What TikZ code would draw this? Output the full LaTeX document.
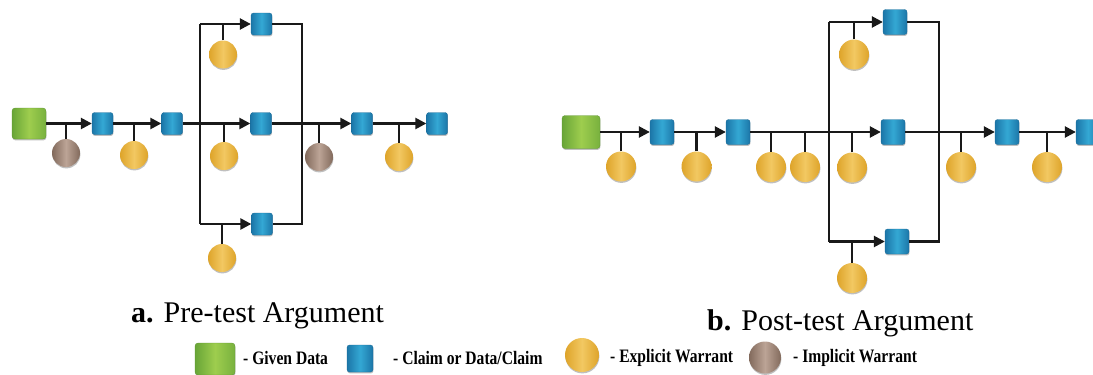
\documentclass[tikz,border=0pt]{standalone}
\usepackage{fontspec}
\setmainfont{Liberation Serif}
\usetikzlibrary{arrows.meta,shadows}
\definecolor{gD}{RGB}{104,165,55}
\definecolor{gL}{RGB}{158,205,78}
\definecolor{bD}{RGB}{28,118,168}
\definecolor{bL}{RGB}{52,168,212}
\definecolor{yD}{RGB}{222,164,42}
\definecolor{yL}{RGB}{242,200,98}
\definecolor{rD}{RGB}{130,106,92}
\definecolor{rL}{RGB}{188,164,150}
\tikzset{
  shd/.style={drop shadow={shadow xshift=0.4pt,shadow yshift=-1.4pt,opacity=0.25,fill=black}},
  given/.style={shd,rounded corners=3pt,inner sep=0pt,left color=gD,right color=gD!70!gL,middle color=gL,draw=gD!90!black,line width=0.3pt},
  claim/.style={shd,rounded corners=2.5pt,inner sep=0pt,left color=bD,right color=bD,middle color=bL,draw=bD!90!black,line width=0.3pt},
  claimA/.style={claim,minimum width=21pt,minimum height=22pt},
  claimB/.style={claim,minimum width=24pt,minimum height=25pt},
  expw/.style={shd,circle,inner sep=0pt,left color=yD,right color=yD,middle color=yL},
  impw/.style={shd,circle,inner sep=0pt,left color=rD,right color=rD,middle color=rL},
  wA/.style={minimum size=28pt},
  wB/.style={minimum size=30pt},
  conn/.style={line width=2.4pt,black!90},
  arr/.style={conn,-{Triangle[length=11pt,width=11pt]}},
  ttl/.style={anchor=base west,inner sep=0pt,font=\fontsize{30}{36}\selectfont},
  leg/.style={anchor=west,inner sep=0pt,font=\fontsize{19}{22}\selectfont\bfseries}
}
\begin{document}
\begin{tikzpicture}[x=1pt,y=-1pt]
\useasboundingbox (0,0) rectangle (1093,375);
\clip (0,0) rectangle (1093,375);
% ---------------- panel a ----------------
\node[given,minimum width=34pt,minimum height=31pt] (ga) at (29,123.5) {};
\node[claimA] (a1) at (102.5,123.5) {};
\node[claimA] (a2) at (172,123.5) {};
\node[claimA] (at) at (261.5,24) {};
\node[claimA] (am) at (261,123.5) {};
\node[claimA] (ab) at (262,224) {};
\node[claimA] (a4) at (362,123.5) {};
\node[claimA] (a5) at (437,123.5) {};
\node[impw,wA] (ia1) at (66,153) {};
\node[expw,wA] (ea1) at (134,155) {};
\node[expw,wA] (eat) at (223,54.5) {};
\node[expw,wA] (eam) at (224,156) {};
\node[expw,wA] (eab) at (222,258) {};
\node[impw,wA] (ia2) at (319,157) {};
\node[expw,wA] (ea2) at (399,157) {};
\coordinate (aL1) at (200,24);
\coordinate (aL2) at (200,224);
\coordinate (aR1) at (302,24);
\coordinate (aR2) at (302,224);
\draw[arr] (ga) -- (a1);
\draw[arr] (a1) -- (a2);
\draw[arr] (a2) -- (am);
\draw[conn] (aL1) -- (aL2);
\draw[arr] (aL1) -- (at);
\draw[arr] (aL2) -- (ab);
\draw[conn] (at) -- (aR1) -- (aR2) -- (ab);
\draw[arr] (am) -- (a4);
\draw[arr] (a4) -- (a5);
\draw[conn] (ia1.north) -- (ia1.north |- ga.east);
\draw[conn] (ea1.north) -- (ea1.north |- a1.east);
\draw[conn] (eat.north) -- (eat.north |- at.west);
\draw[conn] (eam.north) -- (eam.north |- am.west);
\draw[conn] (eab.north) -- (eab.north |- ab.west);
\draw[conn] (ia2.north) -- (ia2.north |- am.east);
\draw[conn] (ea2.north) -- (ea2.north |- a4.east);
% ---------------- panel b ----------------
\node[given,minimum width=38pt,minimum height=33pt] (gb) at (581,132) {};
\node[claimB] (b1) at (662,132) {};
\node[claimB] (b2) at (738,132) {};
\node[claimB] (bt) at (895,22) {};
\node[claimB] (bm) at (893,132) {};
\node[claimB] (bb) at (897,241.5) {};
\node[claimB] (b4) at (1007,132) {};
\node[claimB] (b5) at (1088,132) {};
\node[expw,wB] (eb1) at (621,166.5) {};
\node[expw,wB] (eb2) at (696.5,166.5) {};
\node[expw,wB] (eb3) at (771,167) {};
\node[expw,wB] (eb4) at (805,167) {};
\node[expw,wB] (ebt) at (854,54.5) {};
\node[expw,wB] (ebm) at (852,167.5) {};
\node[expw,wB] (ebb) at (852,278) {};
\node[expw,wB] (eb6) at (961,167) {};
\node[expw,wB] (eb7) at (1047,167) {};
\coordinate (bL1) at (829,22);
\coordinate (bL2) at (829,241.5);
\coordinate (bR1) at (939,22);
\coordinate (bR2) at (939,241.5);
\draw[arr] (gb) -- (b1);
\draw[arr] (b1) -- (b2);
\draw[arr] (b2) -- (bm);
\draw[conn] (bL1) -- (bL2);
\draw[arr] (bL1) -- (bt);
\draw[arr] (bL2) -- (bb);
\draw[conn] (bt) -- (bR1) -- (bR2) -- (bb);
\draw[arr] (bm) -- (b4);
\draw[arr] (b4) -- (b5);
\draw[conn] (eb1.north) -- (eb1.north |- gb.east);
\draw[conn] (eb2.north) -- (eb2.north |- b1.east);
\draw[conn] (eb3.north) -- (eb3.north |- b2.east);
\draw[conn] (eb4.north) -- (eb4.north |- b2.east);
\draw[conn] (ebt.north) -- (ebt.north |- bt.west);
\draw[conn] (ebm.north) -- (ebm.north |- bm.west);
\draw[conn] (ebb.north) -- (ebb.north |- bb.west);
\draw[conn] (eb6.north) -- (eb6.north |- bm.east);
\draw[conn] (eb7.north) -- (eb7.north |- b4.east);
% ---------------- titles ----------------
\node[ttl] (ta) at (131,322) {\textbf{a.} Pre-test Argument};
\node[ttl] (tb) at (707,330) {\textbf{b.} Post-test Argument};
% ---------------- legend ----------------
\node[given,minimum width=40pt,minimum height=32pt] (lg) at (215,359) {};
\node[leg] (lgt) at (243,358) {\scalebox{0.82}[1]{- Given Data}};
\node[claim,minimum width=26pt,minimum height=27pt] (lc) at (360,358.5) {};
\node[leg] (lct) at (393,358) {\scalebox{0.82}[1]{- Claim or Data/Claim}};
\node[expw,circle,minimum size=34pt] (le) at (582,355) {};
\node[leg] (let) at (610,358) {\scalebox{0.82}[1]{- Explicit Warrant}};
\node[impw,circle,minimum size=32pt] (li) at (765,357.5) {};
\node[leg] (lit) at (793,358) {\scalebox{0.82}[1]{- Implicit Warrant}};
\end{tikzpicture}
\end{document}
